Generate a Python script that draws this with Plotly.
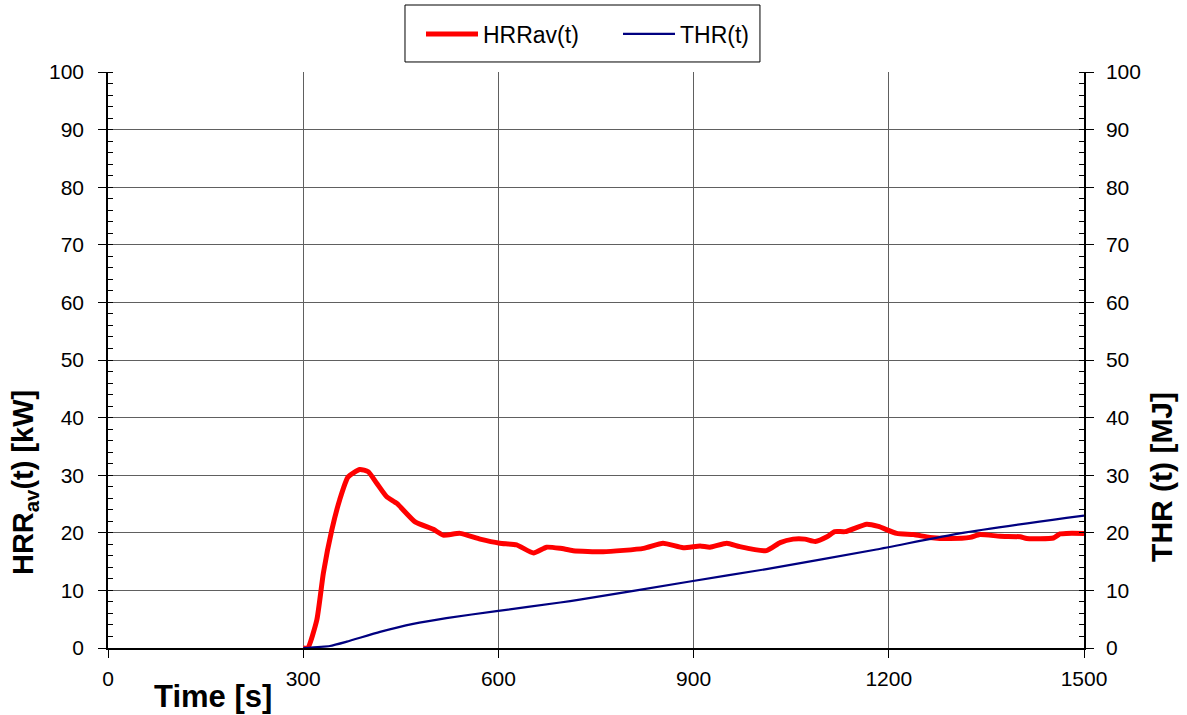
import plotly.graph_objects as go

# HRRav(t) data [s, kW]
hrr_t = [300, 307, 321, 331, 344, 356, 369, 387, 400, 413, 428, 444, 472, 500, 515, 541, 572, 602,
         628, 654, 674, 695, 715, 761, 823, 853, 884, 910, 925, 951, 971, 1012, 1033, 1053, 1071,
         1087, 1105, 1117, 1133, 1166, 1184, 1212, 1238, 1263, 1294, 1325, 1340, 1371, 1402, 1412,
         1453, 1463, 1473, 1500]
hrr_v = [0, 0, 4.9, 13, 20.5, 25.7, 29.7, 31, 30.6, 28.6, 26.3, 25.1, 21.9, 20.6, 19.6, 19.9, 18.9, 18.2,
         17.9, 16.5, 17.5, 17.3, 16.9, 16.7, 17.3, 18.2, 17.4, 17.7, 17.5, 18.2, 17.6, 16.9, 18.3, 18.9, 18.9,
         18.5, 19.3, 20.2, 20.2, 21.5, 21.1, 19.9, 19.7, 19.2, 19.0, 19.2, 19.7, 19.4, 19.3, 19.0,
         19.1, 19.8, 19.9, 19.9]

# THR(t) data [s, MJ]
thr_t = [300, 341, 367, 418, 469, 520, 597, 695, 725, 892, 1012, 1181, 1309, 1473, 1500]
thr_v = [0, 0.35, 1.1, 2.8, 4.2, 5.2, 6.4, 7.9, 8.4, 11.5, 13.7, 17.1, 19.9, 22.6, 23.0]

x_ticks = [0, 300, 600, 900, 1200, 1500]

FONT = "Liberation Sans, Arial, sans-serif"
GRID = "#606060"

fig = go.Figure()
fig.add_trace(go.Scatter(x=hrr_t, y=hrr_v, name="HRRav(t)", mode="lines",
                         line=dict(color="#FF0000", width=5, shape="spline", smoothing=0.5)))
fig.add_trace(go.Scatter(x=thr_t, y=thr_v, name="THR(t)", mode="lines", yaxis="y2",
                         line=dict(color="#000080", width=2.2, shape="spline", smoothing=0.5)))

fig.update_layout(
    width=1187, height=715,
    margin=dict(l=108, r=103, t=72, b=67, autoexpand=False),
    paper_bgcolor="white", plot_bgcolor="white",
    font=dict(family=FONT, size=21, color="black"),
    showlegend=True,
    legend=dict(orientation="h", x=0.3207, xanchor="left", y=1.066, yanchor="middle",
                borderwidth=0, font=dict(size=23), bgcolor="rgba(0,0,0,0)",
                itemwidth=52, entrywidth=130),
    xaxis=dict(range=[0, 1500], tickvals=x_ticks, showgrid=True, gridcolor=GRID, gridwidth=1,
               zeroline=False, showline=True, linecolor="black", linewidth=1.5, mirror=False,
               ticks="outside", ticklen=8, tickcolor="black", tickfont=dict(size=21),
               ticklabelstandoff=3),
    yaxis=dict(range=[0, 100], dtick=10, showgrid=True, gridcolor=GRID, gridwidth=1,
               zeroline=False, showline=True, linecolor="black", linewidth=1.5,
               ticks="outside", ticklen=8, tickcolor="black", tickfont=dict(size=21),
               ticklabelstandoff=10,
               minor=dict(dtick=2, ticks="inside", ticklen=5, tickcolor="black", showgrid=False)),
    yaxis2=dict(range=[0, 100], dtick=10, overlaying="y", side="right", showgrid=False,
                zeroline=False, showline=True, linecolor="black", linewidth=1.5,
                ticks="outside", ticklen=8, tickcolor="black", tickfont=dict(size=21),
                ticklabelstandoff=8,
                minor=dict(dtick=2, ticks="inside", ticklen=5, tickcolor="black", showgrid=False)),
    shapes=[dict(type="rect", xref="paper", yref="paper", x0=0.3043, x1=0.668, y0=1.0174, y1=1.1163,
                 line=dict(color="black", width=1), fillcolor="white", layer="below")],
    annotations=[
        dict(text="<b>Time [s]</b>", xref="paper", yref="paper", x=0.1076, y=-0.085,
             xanchor="center", yanchor="middle", showarrow=False,
             font=dict(size=31, family=FONT)),
        dict(text="<b>HRR<sub>av</sub>(t) [kW]</b>", xref="paper", yref="paper", x=-0.085, y=0.2865,
             xanchor="center", yanchor="middle", textangle=-90, showarrow=False,
             font=dict(size=29, family=FONT)),
        dict(text="<b>THR (t) [MJ]</b>", xref="paper", yref="paper", x=1.0799, y=0.297,
             xanchor="center", yanchor="middle", textangle=-90, showarrow=False,
             font=dict(size=30, family=FONT)),
    ],
)

fig.write_html("out.html")
